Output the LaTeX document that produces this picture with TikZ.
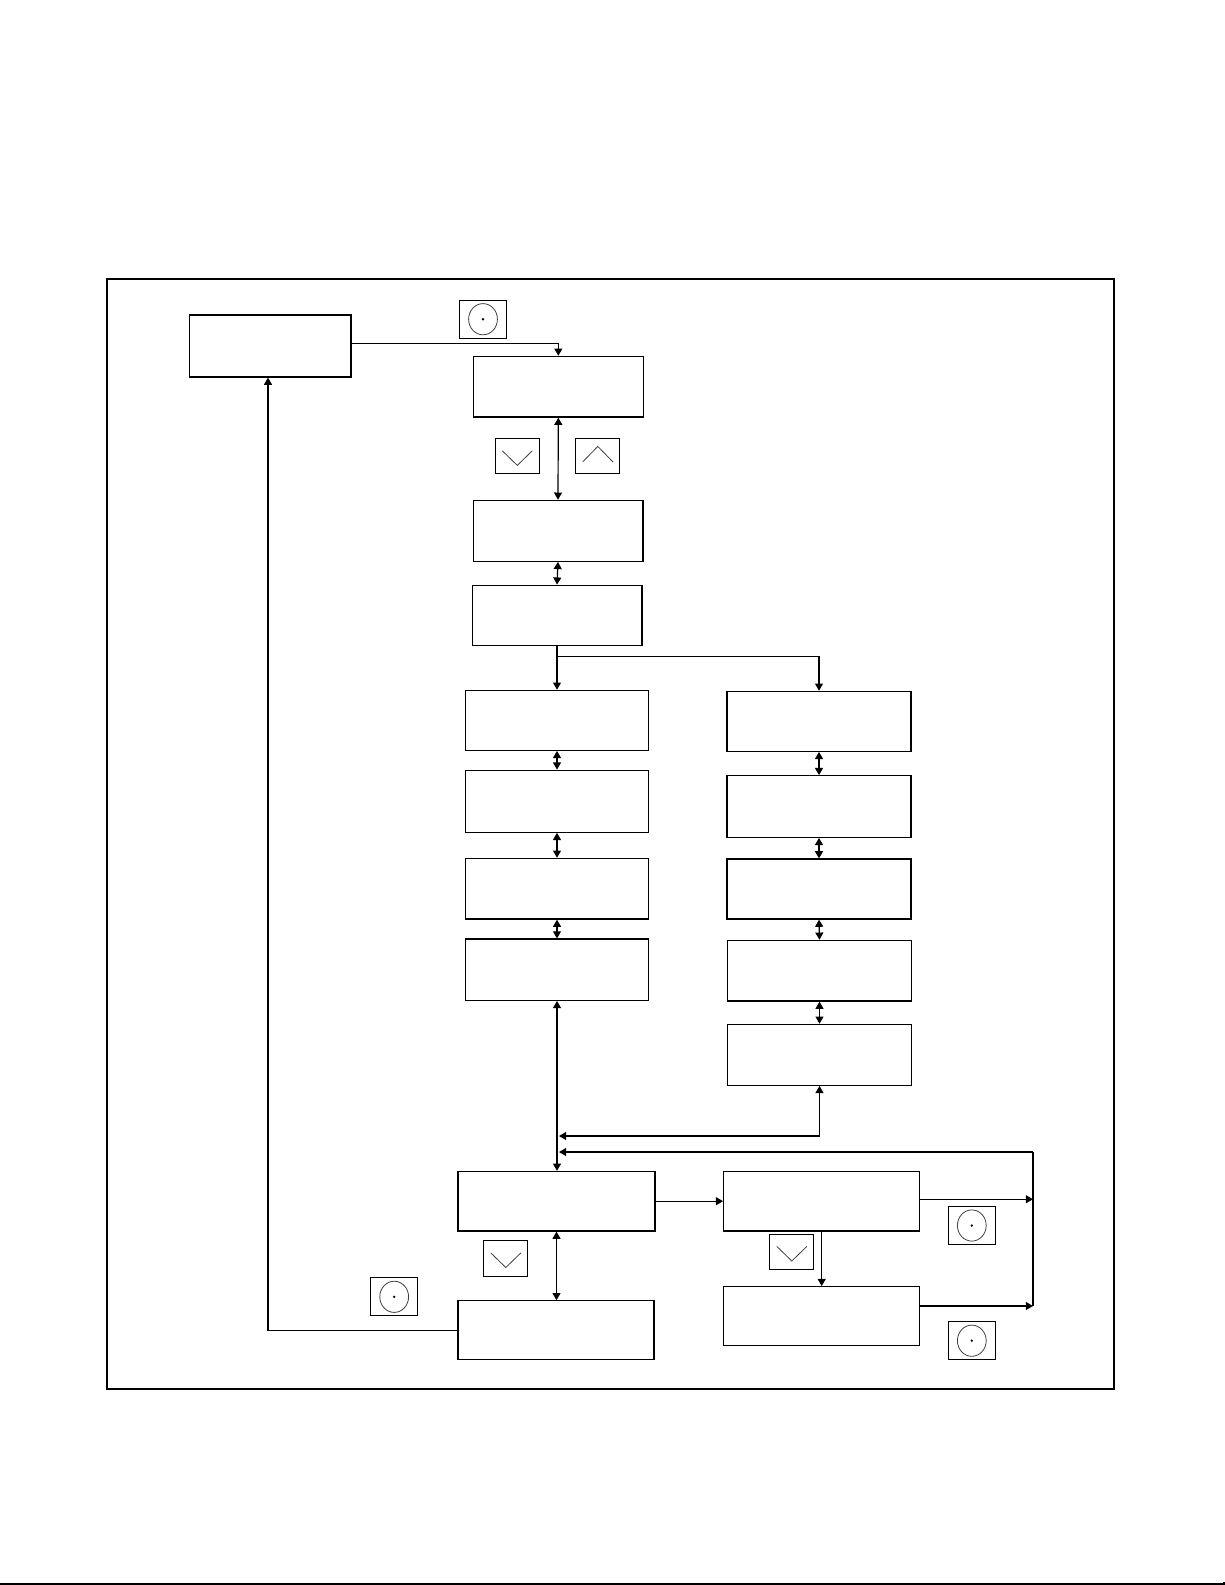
\documentclass[tikz,border=0pt]{standalone}
\usetikzlibrary{arrows.meta}
\begin{document}
\begin{tikzpicture}[x=0.5pt,y=-0.5pt,
  >={Triangle[length=3.6pt,width=4pt]},
  box/.style={draw, line width=0.6pt, inner sep=0pt},
  conn/.style={line width=0.6pt},
  glyph/.style={line width=0.4pt, black!75},
  selbtn/.style={draw, line width=0.5pt, inner sep=0pt, minimum width=23.5pt, minimum height=19pt,
    path picture={\draw[glyph] (path picture bounding box.center) ellipse[x radius=7.2pt, y radius=7.8pt];
      \fill (path picture bounding box.center) circle[radius=0.65pt];}},
  dnbtn/.style={draw, line width=0.5pt, inner sep=0pt, minimum width=22pt, minimum height=17.75pt,
    path picture={\draw[glyph] ([shift={(-7.5pt,2.7pt)}]path picture bounding box.center)
      -- ([shift={(0pt,-4.6pt)}]path picture bounding box.center)
      -- ([shift={(7.5pt,2.7pt)}]path picture bounding box.center);}},
  upbtn/.style={draw, line width=0.5pt, inner sep=0pt, minimum width=22pt, minimum height=17.75pt,
    path picture={\draw[glyph] ([shift={(-7.6pt,-2.9pt)}]path picture bounding box.center)
      -- ([shift={(0pt,4.9pt)}]path picture bounding box.center)
      -- ([shift={(7.6pt,-2.9pt)}]path picture bounding box.center);}}
]
\useasboundingbox (0,0) rectangle (1225,1585);

% outer frame
\draw[line width=1pt] (107.3,279) rectangle (1113.7,1388.7);
% bottom page line
\draw[line width=0.8pt] (0,1583.7) -- (1224,1583.7) -- (1224,1581.5);

% boxes
\node[box, minimum width=80.85pt, minimum height=31pt] (A) at (270.2,346) {};
\node[box, minimum width=85pt, minimum height=30.35pt] (B) at (558.3,386.7) {};
\node[box, minimum width=84.9pt, minimum height=30.5pt] (C) at (558,530.8) {};
\node[box, minimum width=84.9pt, minimum height=30.3pt] (D) at (557,615.5) {};

\node[box, minimum width=91.7pt, minimum height=30pt] (E) at (557,720.3) {};
\node[box, minimum width=91.7pt, minimum height=31pt] (F) at (557,801.2) {};
\node[box, minimum width=91.7pt, minimum height=30.35pt] (G) at (557,888.7) {};
\node[box, minimum width=91.7pt, minimum height=30.65pt] (H) at (557,969.7) {};

\node[box, minimum width=92pt, minimum height=30pt] (R1) at (819,721.3) {};
\node[box, minimum width=92pt, minimum height=30.8pt] (R2) at (819,806.5) {};
\node[box, minimum width=92pt, minimum height=30pt] (R3) at (819,889) {};
\node[box, minimum width=92pt, minimum height=30.35pt] (R4) at (819.5,970.7) {};
\node[box, minimum width=92pt, minimum height=30.5pt] (R5) at (819.5,1054.8) {};

\node[box, minimum width=98.5pt, minimum height=29.8pt] (I) at (556.5,1201.2) {};
\node[box, minimum width=98pt, minimum height=29.3pt] (K) at (556,1330.1) {};
\node[box, minimum width=98pt, minimum height=29.8pt] (J) at (821.7,1201.2) {};
\node[box, minimum width=98pt, minimum height=29.35pt] (L) at (821.7,1316) {};

% buttons
\node[selbtn] (s1) at (483,319.2) {};
\node[dnbtn] (d1) at (517.3,456.2) {};
\node[upbtn] (u1) at (597.8,456.2) {};
\node[dnbtn] (d2) at (505.8,1258.3) {};
\node[dnbtn] (d3) at (791.8,1251.8) {};
\node[selbtn] (s2) at (971.8,1225.5) {};
\node[selbtn] (s3) at (971.8,1340.7) {};
\node[selbtn] (s4) at (394.2,1296.8) {};

% connectors
\draw[conn,->] ([yshift=1.35pt]A.east) -| (B.north);
\draw[conn,<->] (B.south) -- (C.north);
\draw[conn,<->] (C.south) -- (D.north);
\coordinate (br) at (557,656.3);
\draw[conn,->] (D.south) -- (E.north);
\draw[conn,->] (br) -| (R1.north);
\draw[conn,<->] (E.south) -- (F.north);
\draw[conn,<->] (F.south) -- (G.north);
\draw[conn,<->] (G.south) -- (H.north);
\draw[conn,<->] (R1.south) -- (R2.north);
\draw[conn,<->] (R2.south) -- (R3.north);
\draw[conn,<->] (R3.south) -- (R4.north);
\draw[conn,<->] (R4.south) -- (R5.north);
\draw[conn,<->] (H.south) -- (H.south |- I.north);

\coordinate (m1) at (559,1136);
\draw[conn,<->] (m1) -| (R5.south);
\coordinate (rt) at (1033,1152);
\coordinate (rb) at (1033,1306);
\coordinate (m2) at (559,1152);
\draw[conn] (rb) -- (rt);
\draw[conn,->] (rt) -- (m2);

\draw[conn,->] (I.east) -- (J.west);
\coordinate (je) at ([yshift=1pt]J.east);
\coordinate (le) at ([yshift=5pt]L.east);
\draw[conn,->] (je) -- (je -| rt);
\draw[conn,->] (le) -- (le -| rt);
\draw[conn,<->] (I.south) -- (I.south |- K.north);
\draw[conn,->] (J.south) -- (L.north);

\coordinate (kl) at (268,1330.1);
\draw[conn,->] (K.west) -- (kl) -- (kl |- A.south);
\end{tikzpicture}
\end{document}
